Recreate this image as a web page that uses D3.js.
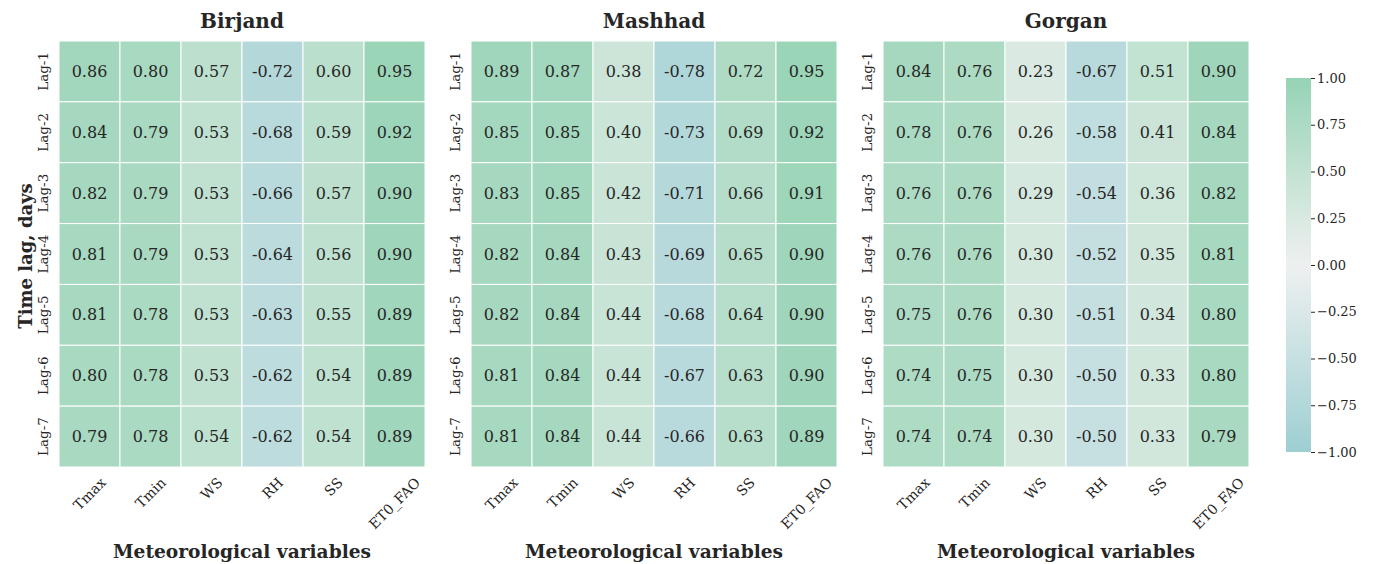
<!DOCTYPE html>
<html>
<head>
<meta charset="utf-8">
<script src="https://cdn.jsdelivr.net/npm/d3@7"></script>
<style>
  html, body { margin: 0; padding: 0; background: #ffffff; }
  svg { display: block; }
  text { font-family: "DejaVu Serif", serif; fill: #262626; }
</style>
</head>
<body>
<svg id="chart" width="1377" height="564"></svg>
<script>
// Correlation between each meteorological variable and lagged target, per station
const variables = ["Tmax", "Tmin", "WS", "RH", "SS", "ET0_FAO"];
const lags = ["Lag-1", "Lag-2", "Lag-3", "Lag-4", "Lag-5", "Lag-6", "Lag-7"];
const stations = ["Birjand", "Mashhad", "Gorgan"];

// rows = lags, columns = variables
const birjand = [
  [0.86, 0.80, 0.57, -0.72, 0.60, 0.95],
  [0.84, 0.79, 0.53, -0.68, 0.59, 0.92],
  [0.82, 0.79, 0.53, -0.66, 0.57, 0.90],
  [0.81, 0.79, 0.53, -0.64, 0.56, 0.90],
  [0.81, 0.78, 0.53, -0.63, 0.55, 0.89],
  [0.80, 0.78, 0.53, -0.62, 0.54, 0.89],
  [0.79, 0.78, 0.54, -0.62, 0.54, 0.89]
];
const mashhad = [
  [0.89, 0.87, 0.38, -0.78, 0.72, 0.95],
  [0.85, 0.85, 0.40, -0.73, 0.69, 0.92],
  [0.83, 0.85, 0.42, -0.71, 0.66, 0.91],
  [0.82, 0.84, 0.43, -0.69, 0.65, 0.90],
  [0.82, 0.84, 0.44, -0.68, 0.64, 0.90],
  [0.81, 0.84, 0.44, -0.67, 0.63, 0.90],
  [0.81, 0.84, 0.44, -0.66, 0.63, 0.89]
];
const gorgan = [
  [0.84, 0.76, 0.23, -0.67, 0.51, 0.90],
  [0.78, 0.76, 0.26, -0.58, 0.41, 0.84],
  [0.76, 0.76, 0.29, -0.54, 0.36, 0.82],
  [0.76, 0.76, 0.30, -0.52, 0.35, 0.81],
  [0.75, 0.76, 0.30, -0.51, 0.34, 0.80],
  [0.74, 0.75, 0.30, -0.50, 0.33, 0.80],
  [0.74, 0.74, 0.30, -0.50, 0.33, 0.79]
];
const stationData = [birjand, mashhad, gorgan];
const colorbarTicks = [1.00, 0.75, 0.50, 0.25, 0.00, -0.25, -0.50, -0.75, -1.00];

const svg = d3.select("#chart");

// Diverging colour scale, teal for negative, green for positive
const color = d3.scaleLinear()
  .domain([-1, 0, 1])
  .range(["#9dcfd2", "#eef0f0", "#96d3b5"])
  .interpolate(d3.interpolateLab)
  .clamp(true);

const panelLefts = [59, 471, 883];
const panelWidth = 366;
const gridTop = 41, gridBottom = 467;

const y = d3.scaleBand().domain(lags).range([gridTop, gridBottom]).padding(0);

stationData.forEach((data, si) => {
  const x = d3.scaleBand().domain(variables)
    .range([panelLefts[si], panelLefts[si] + panelWidth]).padding(0);
  const g = svg.append("g");

  const cells = [];
  data.forEach((row, ri) => row.forEach((v, ci) => cells.push({ lag: lags[ri], variable: variables[ci], v })));

  g.selectAll("rect.cell").data(cells).join("rect")
    .attr("class", "cell")
    .attr("x", d => x(d.variable))
    .attr("y", d => y(d.lag))
    .attr("width", x.bandwidth())
    .attr("height", y.bandwidth())
    .attr("fill", d => color(d.v))
    .attr("stroke", "#ffffff")
    .attr("stroke-width", 1);

  g.selectAll("text.val").data(cells).join("text")
    .attr("class", "val")
    .attr("x", d => x(d.variable) + x.bandwidth() / 2)
    .attr("y", d => y(d.lag) + y.bandwidth() / 2)
    .attr("text-anchor", "middle")
    .attr("dominant-baseline", "central")
    .style("font-size", "16px")
    .text(d => d.v.toFixed(2));

  // station title
  g.append("text")
    .attr("x", panelLefts[si] + panelWidth / 2)
    .attr("y", 28)
    .attr("text-anchor", "middle")
    .style("font-size", "20px")
    .style("font-weight", "bold")
    .text(stations[si]);

  // rotated variable labels
  g.selectAll("text.xlab").data(variables).join("text")
    .attr("class", "xlab")
    .style("font-size", "14px")
    .attr("text-anchor", "middle")
    .attr("dominant-baseline", "central")
    .text(d => d)
    .each(function (d) {
      const w = this.getComputedTextLength();
      const h = 14;
      const cy = 475 + (w + h) * 0.354;
      d3.select(this).attr("transform",
        `translate(${x(d) + x.bandwidth() / 2},${cy}) rotate(-45)`);
    });

  // x axis title
  g.append("text")
    .attr("x", panelLefts[si] + panelWidth / 2)
    .attr("y", 558)
    .attr("text-anchor", "middle")
    .style("font-size", "18.6px")
    .style("font-weight", "bold")
    .text("Meteorological variables");

  // lag labels
  g.selectAll("text.ylab").data(lags).join("text")
    .attr("class", "ylab")
    .attr("text-anchor", "middle")
    .attr("dominant-baseline", "central")
    .style("font-size", "13.5px")
    .attr("transform", d => `translate(${panelLefts[si] - 16},${y(d) + y.bandwidth() / 2}) rotate(-90)`)
    .text(d => d);
});

// y axis title
svg.append("text")
  .attr("text-anchor", "middle")
  .attr("dominant-baseline", "central")
  .attr("transform", `translate(25,${(gridTop + gridBottom) / 2 + 2}) rotate(-90)`)
  .style("font-size", "18px")
  .style("font-weight", "bold")
  .text("Time lag, days");

// colour bar
const cbX = 1286, cbW = 25, cbTop = 78, cbBottom = 452;
const cbScale = d3.scaleLinear().domain([-1, 1]).range([cbBottom, cbTop]);
const defs = svg.append("defs");
const grad = defs.append("linearGradient")
  .attr("id", "cbGrad").attr("x1", 0).attr("y1", 1).attr("x2", 0).attr("y2", 0);
d3.range(0, 21).forEach(i => {
  const t = i / 20;
  grad.append("stop").attr("offset", t).attr("stop-color", color(-1 + 2 * t));
});
svg.append("rect")
  .attr("x", cbX).attr("y", cbTop)
  .attr("width", cbW).attr("height", cbBottom - cbTop)
  .attr("fill", "url(#cbGrad)");

const cbAxis = d3.axisRight(cbScale)
  .tickValues(colorbarTicks)
  .tickSize(4)
  .tickPadding(2)
  .tickFormat(d => d3.format(".2f")(d).replace("-", "\u2212"));
const cbG = svg.append("g").attr("transform", `translate(${cbX + cbW},0)`).call(cbAxis);
cbG.select(".domain").remove();
cbG.selectAll(".tick line").attr("stroke", "#262626").attr("stroke-width", 1);
cbG.selectAll(".tick text")
  .style("font-family", "DejaVu Serif, serif")
  .style("font-size", "13px")
  .attr("fill", "#262626");
</script>
</body>
</html>
